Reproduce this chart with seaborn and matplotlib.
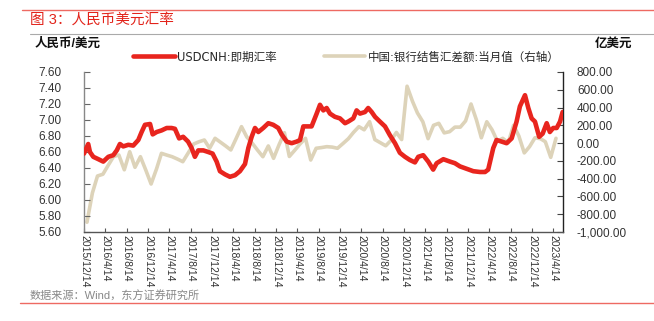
import matplotlib
matplotlib.use("Agg")
import matplotlib.pyplot as plt
from matplotlib.lines import Line2D
import seaborn as sns
import pandas as pd

# ---------------- data ----------------
fx_dates = ["2015-12-14", "2016-01-07", "2016-01-17", "2016-02-05", "2016-03-05", "2016-04-02",
            "2016-05-01", "2016-05-29", "2016-06-18", "2016-07-06", "2016-07-25", "2016-08-23",
            "2016-09-20", "2016-10-19", "2016-11-07", "2016-11-26", "2016-12-25", "2017-01-09",
            "2017-02-01", "2017-03-01", "2017-03-30", "2017-04-27", "2017-05-16", "2017-06-09",
            "2017-07-02", "2017-07-30", "2017-08-19", "2017-09-07", "2017-09-26", "2017-10-25",
            "2017-11-22", "2017-12-17", "2018-01-09", "2018-01-28", "2018-02-26", "2018-03-26",
            "2018-04-24", "2018-05-22", "2018-06-20", "2018-07-09", "2018-07-28", "2018-08-16",
            "2018-09-04", "2018-10-02", "2018-10-31", "2018-11-28", "2018-12-27", "2019-01-15",
            "2019-02-13", "2019-03-13", "2019-04-11", "2019-04-30", "2019-05-19", "2019-06-16",
            "2019-07-05", "2019-08-03", "2019-08-22", "2019-09-10", "2019-09-29", "2019-10-18",
            "2019-11-15", "2019-12-14", "2020-01-12", "2020-01-30", "2020-02-28", "2020-03-18",
            "2020-04-06", "2020-05-05", "2020-05-23", "2020-06-12", "2020-07-01", "2020-07-29",
            "2020-08-27", "2020-09-24", "2020-10-23", "2020-11-20", "2020-12-19", "2021-01-16",
            "2021-02-14", "2021-03-05", "2021-04-02", "2021-05-01", "2021-05-29", "2021-06-18",
            "2021-07-26", "2021-09-02", "2021-09-30", "2021-10-29", "2021-12-06", "2022-01-13",
            "2022-02-20", "2022-03-21", "2022-04-08", "2022-05-07", "2022-05-26", "2022-06-24",
            "2022-07-22", "2022-08-20", "2022-09-17", "2022-10-06", "2022-11-04", "2022-11-23",
            "2022-12-12", "2022-12-31", "2023-01-24", "2023-02-13", "2023-03-08", "2023-03-26",
            "2023-04-14", "2023-05-04", "2023-05-23", "2023-06-07"]
usdcnh = [6.58, 6.70, 6.60, 6.54, 6.51, 6.48,
          6.54, 6.56, 6.62, 6.70, 6.67, 6.69,
          6.68, 6.75, 6.85, 6.94, 6.95, 6.82,
          6.85, 6.87, 6.90, 6.90, 6.89, 6.77,
          6.79, 6.73, 6.65, 6.54, 6.62, 6.62,
          6.60, 6.58, 6.48, 6.36, 6.32, 6.29,
          6.31, 6.36, 6.45, 6.65, 6.79, 6.90,
          6.85, 6.90, 6.96, 6.94, 6.90, 6.82,
          6.73, 6.71, 6.73, 6.75, 6.92, 6.92,
          6.92, 7.08, 7.19, 7.12, 7.15, 7.08,
          7.04, 7.02, 6.96, 6.98, 7.02, 7.12,
          7.08, 7.10, 7.15, 7.10, 7.04, 6.98,
          6.92, 6.81, 6.71, 6.59, 6.54, 6.50,
          6.47, 6.54, 6.56, 6.48, 6.38, 6.46,
          6.51, 6.48, 6.46, 6.42, 6.39, 6.36,
          6.35, 6.35, 6.38, 6.65, 6.75, 6.73,
          6.71, 6.77, 6.98, 7.17, 7.31, 7.15,
          7.02, 6.98, 6.79, 6.83, 6.96, 6.85,
          6.90, 6.90, 6.98, 7.10]

settle_months = pd.date_range("2015-12-31", periods=89, freq="ME").strftime("%Y-%m-%d").tolist()
settle = [-890, -560, -370, -350, -250, -150, -134, -300, -97, -272, -153, -300,
          -460, -290, -115, -135, -153, -180, -209, -110, -10, 15, 35, -58,
          54, 10, -30, -77, 50, 185, 70, 0, -80, -153, -32, -171,
          -20, 117, -150, -80, -10, 54, -190, -58, -50, -40, -45, -58,
          -5, 50, 120, 185, 150, 241, 40, 5, -30, 30, 120, 40,
          640, 470, 340, 240, 50, 200, 223, 115, 129, 180, 180, 250,
          440, 260, 60, 240, 150, 20, 54, 4, 200, 80, -110, -40,
          60, 50, 16, -160, 54]

tick_labels = ["2015/12/14", "2016/4/14", "2016/8/14", "2016/12/14", "2017/4/14", "2017/8/14",
               "2017/12/14", "2018/4/14", "2018/8/14", "2018/12/14", "2019/4/14", "2019/8/14",
               "2019/12/14", "2020/4/14", "2020/8/14", "2020/12/14", "2021/4/14", "2021/8/14",
               "2021/12/14", "2022/4/14", "2022/8/14", "2022/12/14", "2023/4/14"]

left_ticks = [5.6, 5.8, 6.0, 6.2, 6.4, 6.6, 6.8, 7.0, 7.2, 7.4, 7.6]
right_ticks = [-1000, -800, -600, -400, -200, 0, 200, 400, 600, 800]

series_names = ["USDCNH:即期汇率", "中国:银行结售汇差额:当月值（右轴）"]

# ---------------- style ----------------
sns.set_theme(style="white")
plt.rcParams["font.family"] = ["Liberation Sans", "Noto Sans CJK SC", "DejaVu Sans"]

RED = "#E8251E"
TAN = "#DDD3B9"

df_fx = pd.DataFrame({"date": pd.to_datetime(fx_dates), "v": usdcnh})
df_st = pd.DataFrame({"date": pd.to_datetime(settle_months), "v": settle})

fig = plt.figure(figsize=(6.54, 3.21), dpi=100)
ax = fig.add_axes([84 / 654, 1 - 232 / 321, (563 - 84) / 654, (232 - 72) / 321])
ax2 = ax.twinx()

sns.lineplot(data=df_st, x="date", y="v", ax=ax2, color=TAN, linewidth=2.6, zorder=2)
sns.lineplot(data=df_fx, x="date", y="v", ax=ax, color=RED, linewidth=3.3, zorder=3)
ax.set_zorder(ax2.get_zorder() + 1)
ax.patch.set_visible(False)

ax.set_xlim(pd.Timestamp("2015-12-14"), pd.Timestamp("2023-06-09"))
ax.set_ylim(5.6, 7.6)
ax2.set_ylim(-1000, 800)

tick_dates = [pd.to_datetime(t, format="%Y/%m/%d") for t in tick_labels]
ax.set_xticks(tick_dates)
ax.set_xticklabels(tick_labels, rotation=-90, fontsize=7.5, color="#333333",
                   family=["Liberation Sans Narrow", "Liberation Sans"])
ax.set_yticks(left_ticks)
ax.set_yticklabels([f"{v:.2f}" for v in left_ticks], fontsize=8.5, color="#333333")
ax2.set_yticks(right_ticks)
ax2.set_yticklabels([f"{v:,.2f}" for v in right_ticks], fontsize=8.5, color="#333333")

ax.set_xlabel("")
ax.set_ylabel("")
ax2.set_ylabel("")

for a in (ax, ax2):
    a.spines["top"].set_visible(False)
    a.grid(False)
ax.spines["left"].set_color("#888888")
ax.spines["bottom"].set_color("#555555")
ax.spines["right"].set_visible(False)
ax2.spines["left"].set_visible(False)
ax2.spines["bottom"].set_visible(False)
ax2.spines["right"].set_color("#222222")
for s in ("left", "bottom"):
    ax.spines[s].set_linewidth(1.0)
ax2.spines["right"].set_linewidth(1.0)

ax.tick_params(axis="y", direction="in", length=4, width=0.8, color="#666666", pad=16, left=True)
ax.tick_params(axis="x", direction="in", length=3, width=0.8, color="#555555", pad=2, bottom=True)
ax2.tick_params(axis="y", direction="in", length=4, width=0.8, color="#444444", pad=10, right=True)

# legend
handles = [Line2D([], [], color=RED, linewidth=3.3), Line2D([], [], color=TAN, linewidth=2.6)]
fig.legend(handles, series_names, loc="center left", bbox_to_anchor=(133 / 654, 1 - 57 / 321), ncol=2,
           frameon=False, borderpad=0, borderaxespad=0,
           prop={"family": ["DejaVu Sans", "Noto Sans CJK SC"], "size": 8.3},
           handlelength=3.6, handletextpad=0.2, columnspacing=4.1)

# axis unit labels
fig.text(35 / 654, 1 - 44 / 321, "人民币/美元", fontsize=9, fontweight="bold", ha="left", va="center", color="#111111")
fig.text(632 / 654, 1 - 44 / 321, "亿美元", fontsize=9, fontweight="bold", ha="right", va="center", color="#111111")

# title and decorations
fig.text(30 / 654, 1 - 20 / 321, "图 3：人民币美元汇率", fontsize=10.5, color="#E2231A", ha="left", va="center")
fig.add_artist(Line2D([22 / 654, 1.0], [1 - 10 / 321, 1 - 10 / 321], color="#EE6A62", linewidth=1.0))
fig.add_artist(Line2D([30 / 654, 1.0], [1 - 34 / 321, 1 - 34 / 321], color="#AAAAAA", linewidth=0.8))
fig.add_artist(Line2D([20 / 654, 1.0], [1 - 303 / 321, 1 - 303 / 321], color="#EE6A62", linewidth=1.0))
fig.text(30 / 654, 1 - 296 / 321, "数据来源：Wind，东方证券研究所", fontsize=8, color="#888888", ha="left", va="center")

fig.savefig("out.png", dpi=100)
